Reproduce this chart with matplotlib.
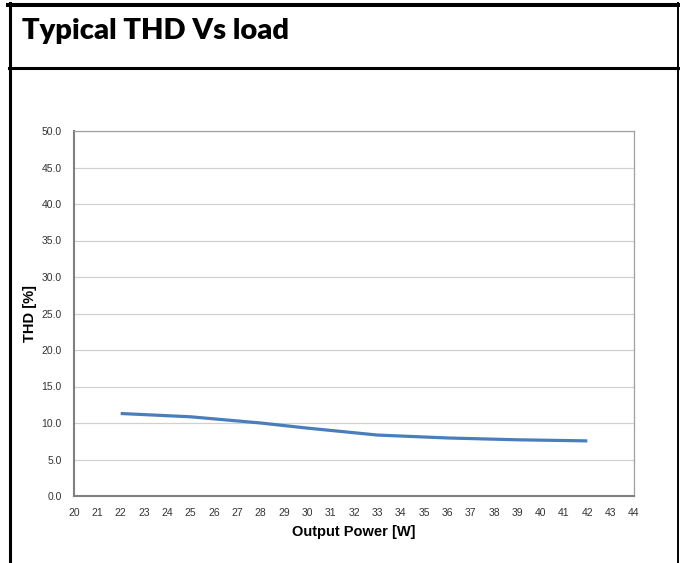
import matplotlib.pyplot as plt
from matplotlib.lines import Line2D

# data
output_power = [22, 25, 28, 30, 33, 36, 39, 42]  # W
thd = [11.3, 10.85, 10.0, 9.3, 8.35, 7.95, 7.7, 7.55]  # %

x_ticks = list(range(20, 45))
y_ticks = [0, 5, 10, 15, 20, 25, 30, 35, 40, 45, 50]

W, H = 680, 563
fig = plt.figure(figsize=(W / 100, H / 100), dpi=100)


def fx(px):
    return px / W


def fy(py):
    return 1 - py / H


# frame around the datasheet block
fig.add_artist(Line2D([fx(8), fx(679)], [fy(5), fy(5)], color="black", lw=2.9))
fig.add_artist(Line2D([fx(9.5), fx(9.5)], [fy(3), 0], color="black", lw=2.2))
fig.add_artist(Line2D([fx(678), fx(678)], [fy(3), 0], color="black", lw=1.4))
fig.add_artist(Line2D([fx(9), fx(679)], [fy(67.5), fy(67.5)], color="black", lw=2.2))

fig.text(fx(22), fy(31), "Typical THD Vs load", fontsize=21, fontweight="heavy",
         family="Lato", va="center", ha="left")

ax = fig.add_axes([fx(74), fy(496), fx(634) - fx(74), fy(131) - fy(496)])
ax.plot(output_power, thd, color="#4a7ebb", lw=2.3, solid_capstyle="butt")

ax.set_xlim(20, 44)
ax.set_ylim(0, 50)
ax.set_xticks(x_ticks)
ax.set_yticks(y_ticks)
ax.set_yticklabels([f"{v:.1f}" for v in y_ticks])
ax.tick_params(length=0, labelsize=7.5, colors="#333333")
ax.tick_params(axis="x", pad=9)
ax.tick_params(axis="y", pad=9)
for lab in ax.get_xticklabels() + ax.get_yticklabels():
    lab.set_family("Liberation Sans")

ax.grid(axis="y", color="#d0d0d0", lw=0.9)
ax.set_axisbelow(True)
for side in ["left", "bottom"]:
    ax.spines[side].set_color("#808080")
    ax.spines[side].set_linewidth(1.5)
for side in ["top", "right"]:
    ax.spines[side].set_color("#a0a0a0")
    ax.spines[side].set_linewidth(0.9)

ax.set_xlabel("Output Power [W]", fontsize=10.5, fontweight="bold", family="Liberation Sans", labelpad=5)
ax.set_ylabel("THD [%]", fontsize=10.5, fontweight="bold", family="Liberation Sans", labelpad=3)

fig.savefig("out.png", dpi=100)
